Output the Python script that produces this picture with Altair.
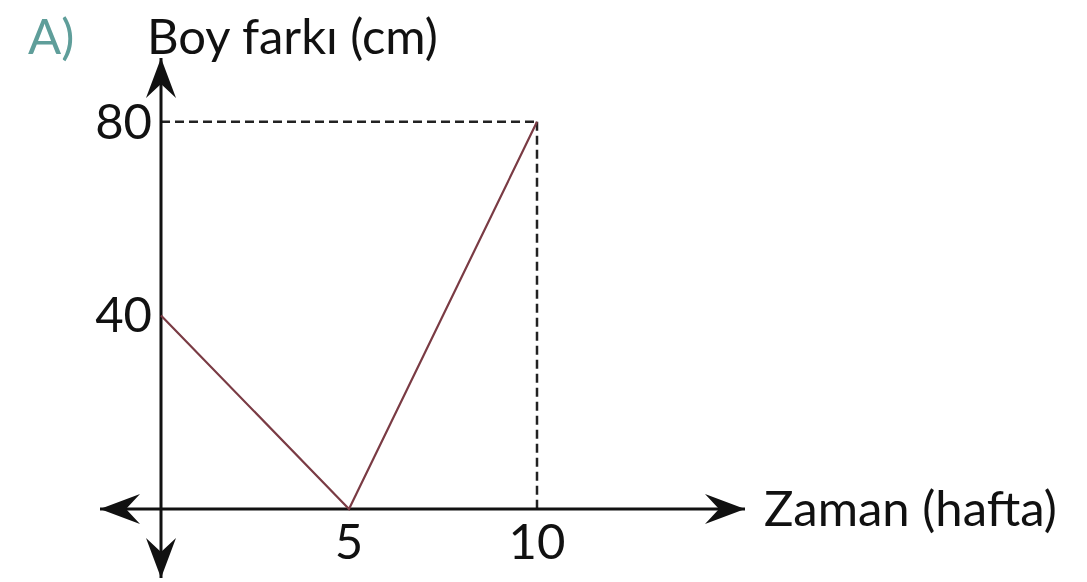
import altair as alt
import pandas as pd

# Height difference (cm) against time (weeks)
weeks = [0, 5, 10]
diff_cm = [40, 0, 80]

x_ticks = [5, 10]
y_ticks = [40, 80]

x_title = "Zaman (hafta)"
y_title = "Boy farkı (cm)"
option_label = "A)"

W, H = 1087, 582
X_PX0, X_PPU = 161.0, 37.6    # pixel of week 0, pixels per week
Y_PX0, Y_PPU = 509.0, 4.84    # pixel of 0 cm, pixels per cm


def xd(px):
    return (px - X_PX0) / X_PPU


def yd(px):
    return (Y_PX0 - px) / Y_PPU


FONT = "Lato"
INK = "#111111"
FS = 49

xs = alt.Scale(domain=[xd(0), xd(W)], nice=False, zero=False)
ys = alt.Scale(domain=[yd(H), yd(0)], nice=False, zero=False)

X = lambda f: alt.X(f, scale=xs, axis=None)
Y = lambda f: alt.Y(f, scale=ys, axis=None)

line_df = pd.DataFrame({"t": weeks, "d": diff_cm})

# dashed guides from the last point to both axes
peak_t, peak_d = weeks[-1], diff_cm[-1]
guide_df = pd.DataFrame({
    "x": [0, peak_t], "x2": [peak_t, peak_t],
    "y": [peak_d, peak_d], "y2": [peak_d, 0],
})
guides = alt.Chart(guide_df).mark_rule(
    color="#222222", strokeWidth=2.5, strokeDash=[9, 5]
).encode(x=X("x:Q"), x2="x2:Q", y=Y("y:Q"), y2="y2:Q")

# coordinate axes with arrows at both ends
ax_left, ax_right, ax_top, ax_bottom = xd(100), xd(745), yd(58), yd(578)
axes_df = pd.DataFrame({
    "x": [ax_left, 0.0], "x2": [ax_right, 0.0],
    "y": [0.0, ax_bottom], "y2": [0.0, ax_top],
})
axes = alt.Chart(axes_df).mark_rule(color=INK, strokeWidth=3).encode(
    x=X("x:Q"), x2="x2:Q", y=Y("y:Q"), y2="y2:Q"
)

ARROW = "M0,0 L-2,-0.75 L-1.3,0 L-2,0.75 Z"
arrow_df = pd.DataFrame({
    "x": [ax_right, ax_left, 0.0, 0.0],
    "y": [0.0, 0.0, ax_top, ax_bottom],
    "angle": [0, 180, 270, 90],
})
arrows = alt.Chart(arrow_df).mark_point(
    shape=ARROW, filled=True, size=1600, color=INK, opacity=1, strokeWidth=0
).encode(x=X("x:Q"), y=Y("y:Q"), angle=alt.Angle("angle:Q", scale=None))

data_line = alt.Chart(line_df).mark_line(
    color="#7a3b44", strokeWidth=2.2
).encode(x=X("t:Q"), y=Y("d:Q"))

ytick_df = pd.DataFrame({"v": y_ticks, "lab": [str(v) for v in y_ticks], "z": 0})
xtick_df = pd.DataFrame({"v": x_ticks, "lab": [str(v) for v in x_ticks], "z": 0})

ytick_text = alt.Chart(ytick_df).mark_text(
    font=FONT, fontSize=FS, color=INK, align="right", baseline="middle", dx=-9, dy=2
).encode(x=X("z:Q"), y=Y("v:Q"), text="lab:N")

xtick_text = alt.Chart(xtick_df).mark_text(
    font=FONT, fontSize=FS, color=INK, align="center", baseline="middle", dy=35
).encode(x=X("v:Q"), y=Y("z:Q"), text="lab:N")

title_df = pd.DataFrame({"lab": [y_title]})
y_title_text = alt.Chart(title_df).mark_text(
    font=FONT, fontSize=FS, color=INK, align="left", baseline="alphabetic"
).encode(x=alt.value(147), y=alt.value(54), text="lab:N")

opt_df = pd.DataFrame({"lab": [option_label]})
opt_text = alt.Chart(opt_df).mark_text(
    font=FONT, fontSize=FS, color="#5f9e9a", align="left", baseline="alphabetic"
).encode(x=alt.value(28), y=alt.value(54), text="lab:N")

xt_df = pd.DataFrame({"lab": [x_title]})
x_title_text = alt.Chart(xt_df).mark_text(
    font=FONT, fontSize=FS, color=INK, align="left", baseline="middle"
).encode(x=alt.value(764), y=alt.value(511), text="lab:N")

chart = alt.layer(
    guides, axes, data_line, arrows,
    ytick_text, xtick_text, y_title_text, opt_text, x_title_text,
).properties(
    width=W, height=H, padding=0, autosize="none", background="white"
).configure_view(stroke=None)

chart.save("out.html", embed_options={"renderer": "svg", "actions": False})
